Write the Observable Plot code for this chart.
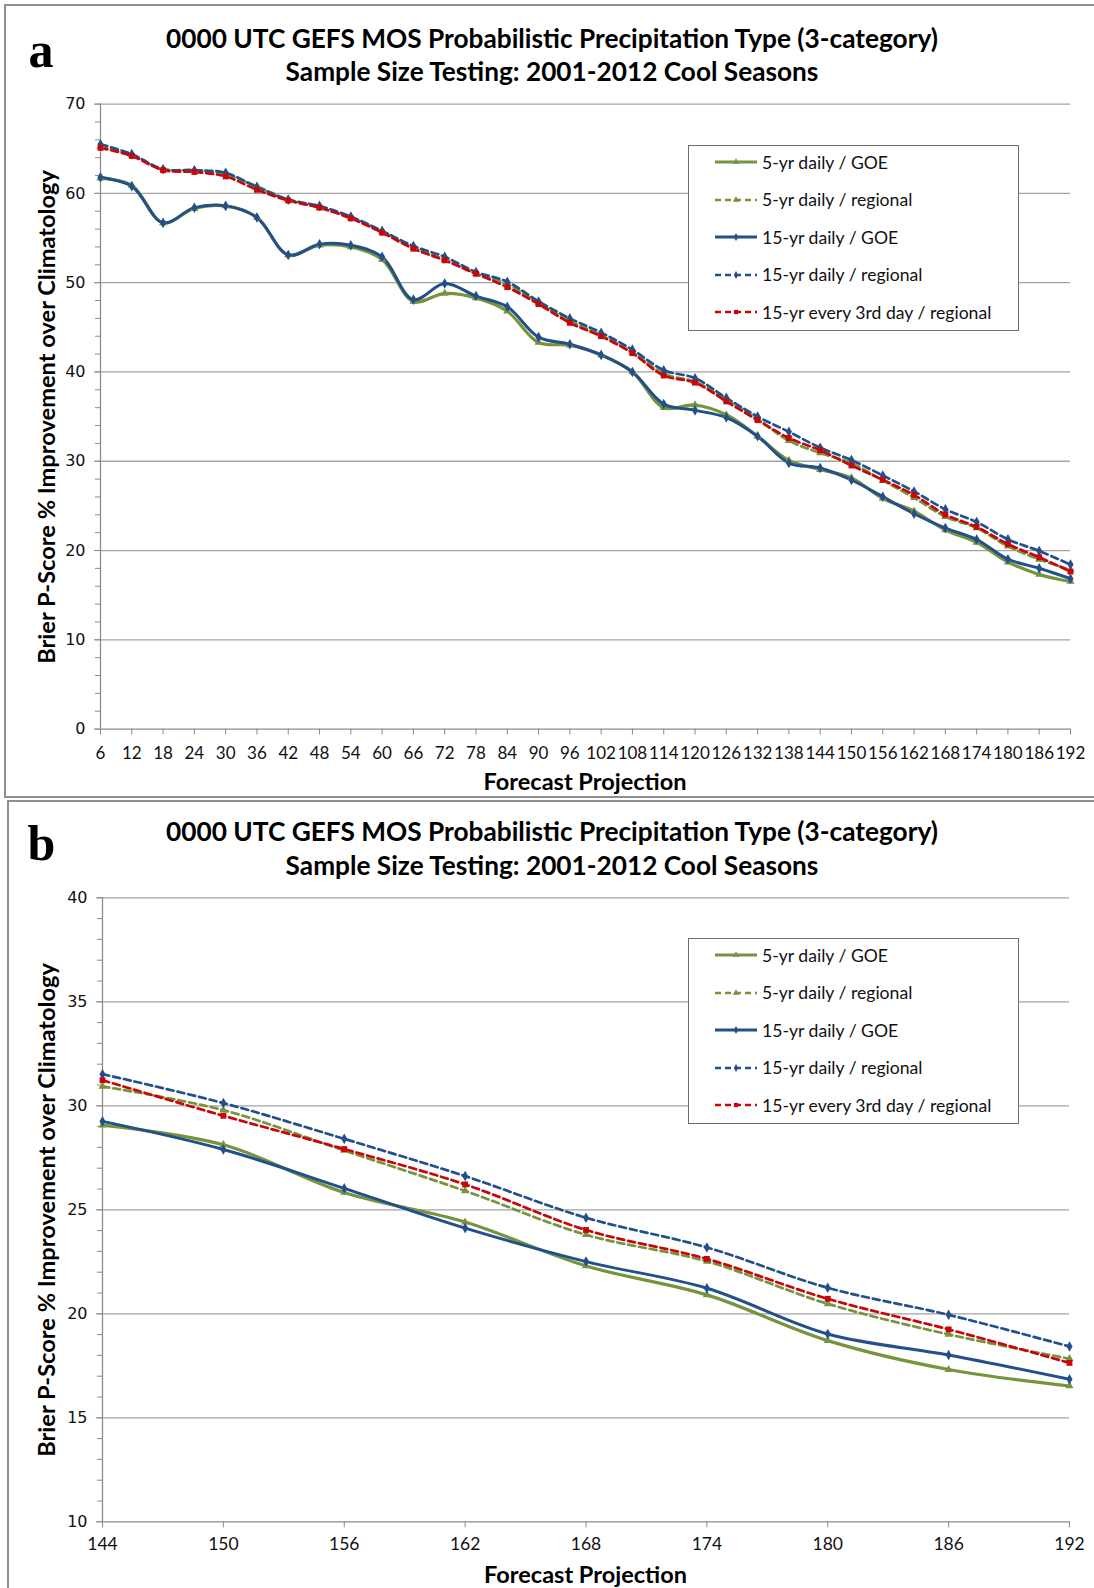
<!DOCTYPE html>
<html>
<head>
<meta charset="utf-8">
<script src="https://cdn.jsdelivr.net/npm/d3@7"></script>
<script src="https://cdn.jsdelivr.net/npm/@observablehq/plot@0.6"></script>
<style>
  html, body { margin: 0; padding: 0; background: #fff; }
  body { width: 1094px; height: 1588px; position: relative; overflow: hidden; }
  .box { position: absolute; box-sizing: border-box; border: 2px solid #8f8f8f; }
  .plotwrap { position: absolute; left: 0; }
  .plotwrap svg { display: block; overflow: visible; }
  .legend { position: absolute; box-sizing: border-box; border: 1.3px solid #6e6e6e; background: #fff; }
  .lg-row { position: absolute; display: flex; align-items: center; white-space: nowrap;
            font-family: Lato, "Open Sans", sans-serif; font-size: 17.6px; color: #111; }
  .lg-row svg { margin-right: 4px; }
  .txt { position: absolute; white-space: nowrap; line-height: 1; color: #000; }
</style>
</head>
<body>
<script>
// ---------------- data ----------------
const hours = [6, 12, 18, 24, 30, 36, 42, 48, 54, 60, 66, 72, 78, 84, 90, 96,
  102, 108, 114, 120, 126, 132, 138, 144, 150, 156, 162, 168, 174, 180, 186, 192];

const seriesNames = [
  "5-yr daily / GOE",
  "5-yr daily / regional",
  "15-yr daily / GOE",
  "15-yr daily / regional",
  "15-yr every 3rd day / regional"
];

const goe5 = [61.7, 60.9, 56.7, 58.3, 58.6, 57.3, 53.1, 54.2, 54.0, 52.6, 47.9, 48.8, 48.3, 46.8, 43.3, 43.0,
  41.9, 40.0, 36.0, 36.3, 35.2, 32.8, 30.1, 29.07, 28.13, 25.83, 24.41, 22.30, 20.91, 18.71, 17.32, 16.53];
const regional5 = [65.2, 64.3, 62.7, 62.6, 62.1, 60.8, 59.3, 58.4, 57.3, 55.7, 53.9, 52.6, 51.0, 49.8, 47.7, 45.7,
  44.1, 42.2, 39.8, 38.9, 36.9, 34.7, 32.3, 30.93, 29.79, 27.85, 25.91, 23.80, 22.52, 20.48, 19.01, 17.84];
const goe15 = [61.8, 60.8, 56.7, 58.4, 58.6, 57.3, 53.1, 54.3, 54.2, 52.9, 48.1, 49.9, 48.5, 47.3, 43.9, 43.1,
  41.9, 40.0, 36.4, 35.7, 34.9, 32.8, 29.8, 29.25, 27.90, 26.03, 24.12, 22.51, 21.23, 19.03, 18.02, 16.85];
const regional15 = [65.5, 64.4, 62.7, 62.6, 62.3, 60.7, 59.3, 58.6, 57.4, 55.8, 54.1, 52.9, 51.2, 50.1, 47.9, 46.0,
  44.4, 42.5, 40.2, 39.3, 37.1, 35.0, 33.3, 31.52, 30.13, 28.41, 26.62, 24.62, 23.19, 21.25, 19.95, 18.43];
const every3rd = [65.1, 64.2, 62.6, 62.4, 61.9, 60.4, 59.2, 58.4, 57.2, 55.6, 53.8, 52.5, 51.0, 49.5, 47.6, 45.5,
  44.0, 42.1, 39.6, 38.8, 36.7, 34.6, 32.6, 31.23, 29.52, 27.92, 26.22, 24.03, 22.64, 20.72, 19.25, 17.64];

const panelATicksY = [0, 10, 20, 30, 40, 50, 60, 70];
const panelBTicksY = [10, 15, 20, 25, 30, 35, 40];
const panelBTicksX = [144, 150, 156, 162, 168, 174, 180, 186, 192];

const titleLine1 = "0000 UTC GEFS MOS Probabilistic Precipitation Type (3-category)";
const titleLine2 = "Sample Size Testing: 2001-2012 Cool Seasons";
const yTitle = "Brier P-Score % Improvement over Climatology";
const xTitle = "Forecast Projection";

// ---------------- styles ----------------
const GREEN = "#77933C", BLUE = "#23508A", RED = "#C8060A";
const seriesValues = [goe5, regional5, goe15, regional15, every3rd];
const styles = [
  {stroke: GREEN, dash: null,  symbol: "triangle", r: 3.0, width: 3.2},
  {stroke: GREEN, dash: "7,4", symbol: "triangle", r: 3.0, width: 2.7},
  {stroke: BLUE,  dash: null,  symbol: "diamond",  r: 3.2, width: 3},
  {stroke: BLUE,  dash: "7,4", symbol: "diamond",  r: 3.2, width: 2.7},
  {stroke: RED,   dash: "7,4", symbol: "square",   r: 3.3, width: 2.7}
];

const rows = seriesNames.flatMap((name, i) =>
  hours.map((h, j) => ({hour: h, value: seriesValues[i][j], series: name})));

// ---------------- helpers ----------------
const ctx = document.createElement("canvas").getContext("2d");
function fitSize(text, family, weight, target) {
  ctx.font = `${weight} 100px ${family}`;
  return 100 * target / ctx.measureText(text).width;
}
function addText(text, {cx, cy, width, size, weight = "bold", family = "Lato", rotate = 0}) {
  const s = size ?? fitSize(text, family, weight, width);
  const el = document.createElement("div");
  el.className = "txt";
  el.textContent = text;
  el.style.left = cx + "px";
  el.style.top = cy + "px";
  el.style.font = `${weight} ${s}px ${family}`;
  el.style.transform = `translate(-50%,-50%) rotate(${rotate}deg)`;
  document.body.appendChild(el);
}
function addBox(left, top, width, height) {
  const b = document.createElement("div");
  b.className = "box";
  Object.assign(b.style, {left: left + "px", top: top + "px", width: width + "px", height: height + "px"});
  document.body.appendChild(b);
}
function addLegend(left, top) {
  const lg = document.createElement("div");
  lg.className = "legend";
  Object.assign(lg.style, {left: left + "px", top: top + "px", width: "331px", height: "186px"});
  document.body.appendChild(lg);
  seriesNames.forEach((name, i) => {
    const st = styles[i];
    const row = document.createElement("div");
    row.className = "lg-row";
    row.style.left = (left + 26) + "px";
    row.style.top = (top + 17 + i * 37.6 - 10) + "px";
    row.style.height = "20px";
    const ns = "http://www.w3.org/2000/svg";
    const svg = document.createElementNS(ns, "svg");
    svg.setAttribute("width", "44"); svg.setAttribute("height", "12");
    const ln = document.createElementNS(ns, "line");
    ln.setAttribute("x1", "1"); ln.setAttribute("x2", "43");
    ln.setAttribute("y1", "6"); ln.setAttribute("y2", "6");
    ln.setAttribute("stroke", st.stroke); ln.setAttribute("stroke-width", st.width);
    if (st.dash) ln.setAttribute("stroke-dasharray", "6,4");
    svg.appendChild(ln);
    const sym = d3.symbol(st.symbol === "triangle" ? d3.symbolTriangle : st.symbol === "diamond" ? d3.symbolDiamond : d3.symbolSquare, 18)();
    const p = document.createElementNS(ns, "path");
    p.setAttribute("d", sym); p.setAttribute("transform", "translate(22,6)"); p.setAttribute("fill", st.stroke);
    svg.appendChild(p);
    row.appendChild(svg);
    const t = document.createElement("span");
    t.textContent = name;
    row.appendChild(t);
    document.body.appendChild(row);
  });
}

function seriesMarks(data) {
  const marks = [];
  seriesNames.forEach((name, i) => {
    const st = styles[i];
    const d = data.filter(r => r.series === name);
    marks.push(Plot.line(d, {x: "hour", y: "value", stroke: st.stroke, strokeWidth: st.width,
      strokeDasharray: st.dash ?? undefined, curve: "catmull-rom"}));
  });
  seriesNames.forEach((name, i) => {
    const st = styles[i];
    const d = data.filter(r => r.series === name);
    marks.push(Plot.dot(d, {x: "hour", y: "value", symbol: () => st.symbol, r: st.r, fill: st.stroke, stroke: "none"}));
  });
  return marks;
}

function makePanel({top, height, mt, mb, ml, mr, xDomain, yDomain, xTicks, yTicks, yMinor, data, xFont, xSize, xPad}) {
  const plot = Plot.plot({
    width: 1094, height,
    marginTop: mt, marginBottom: mb, marginLeft: ml, marginRight: mr,
    x: {domain: xDomain}, y: {domain: yDomain},
    symbol: {type: "identity"},
    style: {background: "transparent", fontFamily: "DejaVu Sans"},
    marks: [
      Plot.gridY(yTicks.filter(t => t !== yDomain[0]), {stroke: "#a3a3a3", strokeOpacity: 1, strokeWidth: 1.3}),
      Plot.axisY(yMinor, {tickSize: 5, text: null, stroke: "#8c8c8c", strokeWidth: 1, label: null}),
      Plot.axisY(yTicks, {tickSize: 6, tickPadding: 9, stroke: "#8c8c8c", fill: "#111", fontSize: 16,
        fontFamily: "DejaVu Sans", label: null}),
      Plot.ruleX([xDomain[0]], {stroke: "#8c8c8c", strokeWidth: 1.3}),
      Plot.ruleY([yDomain[0]], {stroke: "#8c8c8c", strokeWidth: 1.3}),
      Plot.axisX(xTicks, {tickSize: 6, tickPadding: xPad, stroke: "#8c8c8c", fill: "#111", fontSize: xSize,
        fontFamily: xFont, label: null, tickFormat: d => String(d)}),
      ...seriesMarks(data)
    ]
  });
  const wrap = document.createElement("div");
  wrap.className = "plotwrap";
  wrap.style.top = top + "px";
  wrap.appendChild(plot);
  document.body.appendChild(wrap);
}

// ---------------- panel a ----------------
addBox(4, 4, 1100, 794);
makePanel({
  top: 0, height: 798, mt: 103.6, mb: 69.4, ml: 100, mr: 24,
  xDomain: [6, 192], yDomain: [0, 70],
  xTicks: hours, yTicks: panelATicksY, yMinor: d3.range(0, 71, 2),
  data: rows, xFont: "Lato", xSize: 17, xPad: 12
});
addText("a", {cx: 41, cy: 50, size: 50, family: "'Liberation Serif'"});
addText(titleLine1, {cx: 552, cy: 37.5, width: 773});
addText(titleLine2, {cx: 552, cy: 71, width: 534});
addText(yTitle, {cx: 45.5, cy: 416.5, width: 495, rotate: -90});
addText(xTitle, {cx: 585, cy: 781, width: 203});
addLegend(688, 145);

// ---------------- panel b ----------------
addBox(7, 800, 1100, 800);
makePanel({
  top: 799, height: 789, mt: 98.3, mb: 66.7, ml: 102, mr: 25,
  xDomain: [144, 192], yDomain: [10, 40],
  xTicks: panelBTicksX, yTicks: panelBTicksY, yMinor: d3.range(10, 41, 1),
  data: rows.filter(r => r.hour >= 144), xFont: "Lato", xSize: 17.5, xPad: 10
});
addText("b", {cx: 41.5, cy: 843, size: 50, family: "'Liberation Serif'"});
addText(titleLine1, {cx: 552, cy: 831, width: 773});
addText(titleLine2, {cx: 552, cy: 865, width: 534});
addText(yTitle, {cx: 46, cy: 1209.5, width: 495, rotate: -90});
addText(xTitle, {cx: 585.5, cy: 1574, width: 203});
addLegend(688, 938);
</script>
</body>
</html>
